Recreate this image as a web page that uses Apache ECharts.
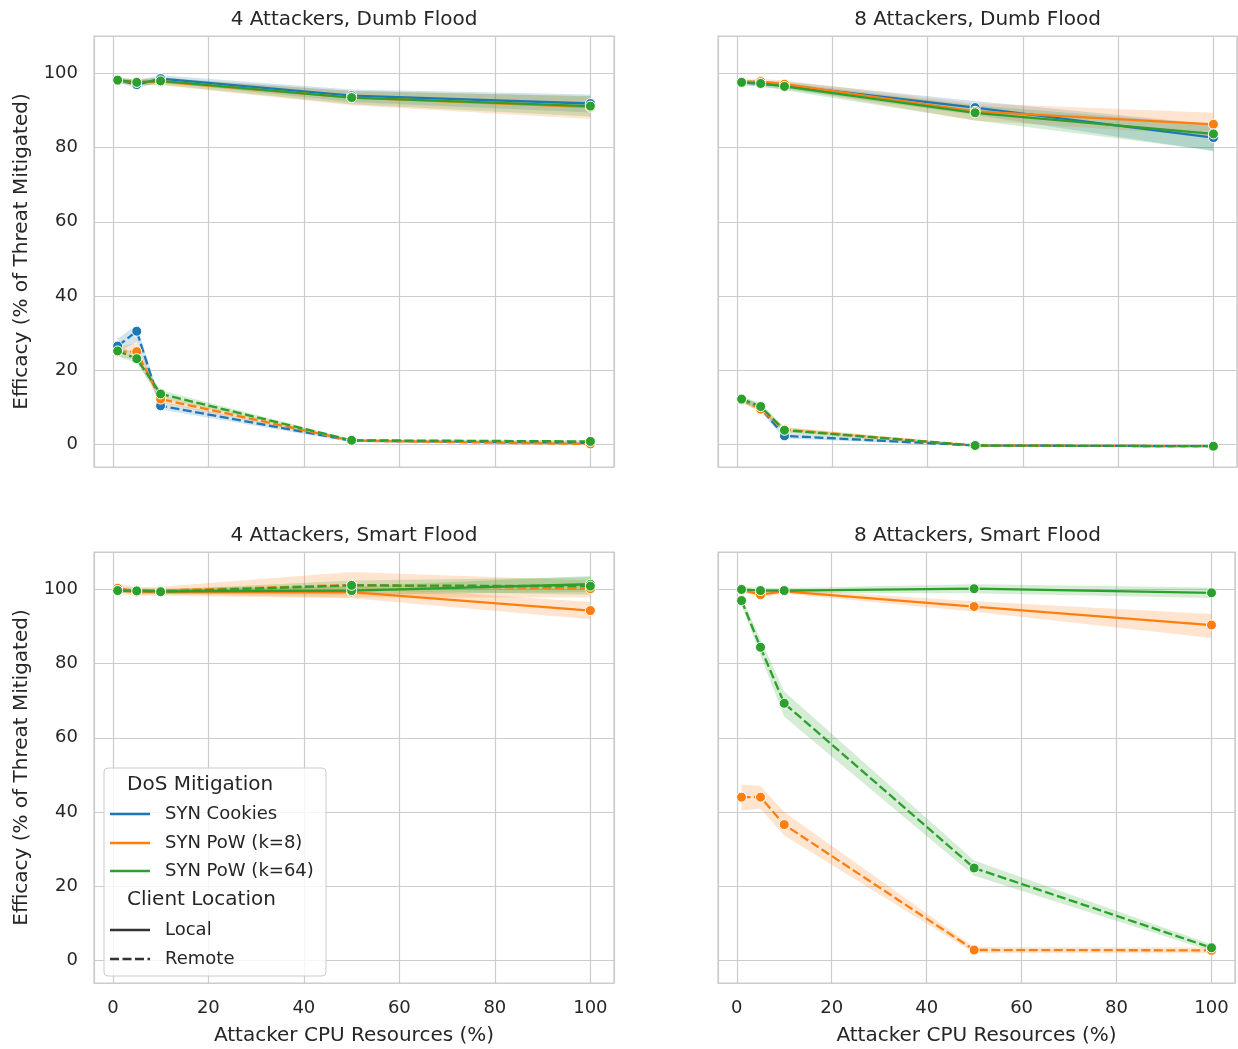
<!DOCTYPE html>
<html><head><meta charset="utf-8">
<script src="https://cdn.jsdelivr.net/npm/echarts@6/dist/echarts.min.js"></script>
<style>html,body{margin:0;padding:0;background:#fff}#chart{width:1238px;height:1049px}</style>
</head><body><div id="chart"></div>
<script>
// ---------- data ----------
const xValues = [1, 5, 10, 50, 100];
const xTickLabels = [0, 20, 40, 60, 80, 100];
const yTickLabels = [0, 20, 40, 60, 80, 100];
const panelTitles = ['4 Attackers, Dumb Flood', '8 Attackers, Dumb Flood', '4 Attackers, Smart Flood', '8 Attackers, Smart Flood'];
const mitigationNames = ['SYN Cookies', 'SYN PoW (k=8)', 'SYN PoW (k=64)'];
const locationNames = ['Local', 'Remote'];
const xAxisTitle = 'Attacker CPU Resources (%)';
const yAxisTitle = 'Efficacy (% of Threat Mitigated)';

// Panel A: 4 Attackers, Dumb Flood
const a_cookies_local = [98.3, 97.0, 98.6, 94.0, 91.9];
const a_cookies_local_lo = [97.6, 96.0, 97.6, 92.3, 89.5];
const a_cookies_local_hi = [99.0, 98.2, 99.5, 95.7, 94.3];
const a_pow8_local = [98.1, 97.7, 97.8, 93.5, 90.9];
const a_pow8_local_lo = [97.3, 96.9, 96.8, 91.4, 87.7];
const a_pow8_local_hi = [98.8, 98.5, 98.7, 95.3, 93.8];
const a_pow64_local = [98.2, 97.6, 98.0, 93.5, 91.2];
const a_pow64_local_lo = [97.5, 96.8, 97.0, 91.7, 88.4];
const a_pow64_local_hi = [98.9, 98.3, 98.9, 95.3, 93.9];
const a_cookies_remote = [26.5, 30.5, 10.4, 1.0, 0.4];
const a_cookies_remote_lo = [25.0, 27.5, 9.4, 0.6, 0.1];
const a_cookies_remote_hi = [28.5, 32.2, 11.5, 1.4, 0.7];
const a_pow8_remote = [25.0, 25.0, 12.2, 1.0, 0.1];
const a_pow8_remote_lo = [23.6, 22.8, 11.2, 0.7, -0.2];
const a_pow8_remote_hi = [26.5, 27.2, 13.2, 1.3, 0.4];
const a_pow64_remote = [25.2, 23.1, 13.6, 1.1, 0.8];
const a_pow64_remote_lo = [23.8, 21.8, 12.6, 0.8, 0.5];
const a_pow64_remote_hi = [26.6, 24.4, 14.6, 1.4, 1.1];

// Panel B: 8 Attackers, Dumb Flood
const b_cookies_local = [97.6, 97.2, 96.8, 90.8, 82.7];
const b_cookies_local_lo = [96.9, 96.4, 95.8, 88.8, 79.0];
const b_cookies_local_hi = [98.3, 98.0, 97.8, 92.6, 86.3];
const b_pow8_local = [97.7, 97.8, 97.1, 89.8, 86.3];
const b_pow8_local_lo = [97.0, 97.0, 96.1, 87.3, 83.2];
const b_pow8_local_hi = [98.4, 98.6, 98.1, 92.0, 89.4];
const b_pow64_local = [97.6, 97.3, 96.5, 89.4, 83.7];
const b_pow64_local_lo = [96.9, 96.5, 95.5, 87.3, 79.2];
const b_pow64_local_hi = [98.3, 98.1, 97.5, 91.4, 86.2];
const b_cookies_remote = [12.1, 9.8, 2.3, -0.3, -0.5];
const b_cookies_remote_lo = [11.4, 8.8, 1.6, -0.5, -0.7];
const b_cookies_remote_hi = [12.8, 10.8, 3.0, -0.1, -0.3];
const b_pow8_remote = [12.0, 9.5, 4.0, -0.3, -0.5];
const b_pow8_remote_lo = [11.3, 8.6, 3.3, -0.5, -0.7];
const b_pow8_remote_hi = [12.7, 10.4, 4.7, -0.1, -0.3];
const b_pow64_remote = [12.2, 10.2, 3.8, -0.3, -0.5];
const b_pow64_remote_lo = [11.5, 9.3, 3.1, -0.5, -0.7];
const b_pow64_remote_hi = [12.9, 11.1, 4.5, -0.1, -0.3];

// Panel C: 4 Attackers, Smart Flood
const c_pow8_local = [99.8, 99.3, 99.3, 99.3, 94.3];
const c_pow8_local_lo = [98.8, 98.3, 98.3, 97.6, 92.0];
const c_pow8_local_hi = [100.9, 100.3, 100.3, 101.0, 96.6];
const c_pow8_remote = [100.3, 99.6, 99.7, 101.2, 100.2];
const c_pow8_remote_lo = [99.3, 98.6, 98.7, 97.8, 97.8];
const c_pow8_remote_hi = [101.6, 100.6, 100.7, 104.7, 102.4];
const c_pow64_local = [99.7, 99.7, 99.5, 99.7, 101.4];
const c_pow64_local_lo = [99.1, 99.1, 98.9, 98.6, 99.3];
const c_pow64_local_hi = [100.3, 100.3, 100.1, 100.8, 103.6];
const c_pow64_remote = [99.7, 99.6, 99.4, 101.1, 100.9];
const c_pow64_remote_lo = [99.2, 99.1, 98.9, 99.8, 98.6];
const c_pow64_remote_hi = [100.2, 100.1, 99.9, 102.4, 103.3];

// Panel D: 8 Attackers, Smart Flood
const d_pow8_local = [99.9, 98.6, 99.5, 95.4, 90.4];
const d_pow8_local_lo = [99.3, 97.9, 98.9, 94.0, 86.9];
const d_pow8_local_hi = [100.5, 99.3, 100.1, 96.8, 93.4];
const d_pow8_remote = [44.0, 44.0, 36.6, 2.8, 2.7];
const d_pow8_remote_lo = [40.4, 40.9, 33.7, 2.0, 1.9];
const d_pow8_remote_hi = [47.4, 47.0, 40.0, 3.6, 3.5];
const d_pow64_local = [100.0, 99.7, 99.7, 100.2, 99.1];
const d_pow64_local_lo = [99.3, 99.0, 99.0, 99.0, 97.7];
const d_pow64_local_hi = [100.7, 100.4, 100.4, 101.4, 100.5];
const d_pow64_remote = [97.0, 84.4, 69.3, 24.9, 3.4];
const d_pow64_remote_lo = [95.8, 82.2, 65.7, 22.8, 2.5];
const d_pow64_remote_hi = [98.2, 86.6, 72.5, 26.9, 4.3];

// ---------- structure (mitigation index, location index, mean, lo, hi) ----------
const panels = [
  [
    [0, 0, a_cookies_local, a_cookies_local_lo, a_cookies_local_hi],
    [0, 1, a_cookies_remote, a_cookies_remote_lo, a_cookies_remote_hi],
    [1, 0, a_pow8_local, a_pow8_local_lo, a_pow8_local_hi],
    [1, 1, a_pow8_remote, a_pow8_remote_lo, a_pow8_remote_hi],
    [2, 0, a_pow64_local, a_pow64_local_lo, a_pow64_local_hi],
    [2, 1, a_pow64_remote, a_pow64_remote_lo, a_pow64_remote_hi]
  ],
  [
    [0, 0, b_cookies_local, b_cookies_local_lo, b_cookies_local_hi],
    [0, 1, b_cookies_remote, b_cookies_remote_lo, b_cookies_remote_hi],
    [1, 0, b_pow8_local, b_pow8_local_lo, b_pow8_local_hi],
    [1, 1, b_pow8_remote, b_pow8_remote_lo, b_pow8_remote_hi],
    [2, 0, b_pow64_local, b_pow64_local_lo, b_pow64_local_hi],
    [2, 1, b_pow64_remote, b_pow64_remote_lo, b_pow64_remote_hi]
  ],
  [
    [1, 0, c_pow8_local, c_pow8_local_lo, c_pow8_local_hi],
    [1, 1, c_pow8_remote, c_pow8_remote_lo, c_pow8_remote_hi],
    [2, 0, c_pow64_local, c_pow64_local_lo, c_pow64_local_hi],
    [2, 1, c_pow64_remote, c_pow64_remote_lo, c_pow64_remote_hi]
  ],
  [
    [1, 0, d_pow8_local, d_pow8_local_lo, d_pow8_local_hi],
    [1, 1, d_pow8_remote, d_pow8_remote_lo, d_pow8_remote_hi],
    [2, 0, d_pow64_local, d_pow64_local_lo, d_pow64_local_hi],
    [2, 1, d_pow64_remote, d_pow64_remote_lo, d_pow64_remote_hi]
  ]
];

// ---------- style ----------
const colors = ['#1f77b4', '#ff7f0e', '#2ca02c'];
const FONT = '"DejaVu Sans", "Liberation Sans", sans-serif';
const TXT = '#262626';
const GRIDC = '#cccccc';
const dashPattern = [9, 3.5];
const gridRects = [
  { left: 94, top: 36, width: 520, height: 431 },
  { left: 718, top: 36, width: 519, height: 431 },
  { left: 94, top: 552, width: 520, height: 431 },
  { left: 718, top: 552, width: 519, height: 431 }
];

function isTick(v, list) { return list.some(t => Math.abs(t - v) < 1e-6); }

const chart = echarts.init(document.getElementById('chart'), null, { renderer: 'canvas' });

const grid = [], xAxis = [], yAxis = [], title = [], series = [];
gridRects.forEach((g, p) => {
  grid.push(Object.assign({ show: true, borderColor: GRIDC, borderWidth: 1.25, backgroundColor: '#fff' }, g));
  const bottomRow = p >= 2, leftCol = p % 2 === 0;
  title.push({
    text: panelTitles[p], left: g.left + g.width / 2, top: g.top - 26, textAlign: 'center', padding: 0,
    textStyle: { fontSize: 20, fontWeight: 'normal', color: TXT, fontFamily: FONT }
  });
  xAxis.push({
    type: 'value', gridIndex: p, min: -3.95, max: 104.95, splitNumber: 5, minInterval: 20, maxInterval: 20,
    axisLine: { show: false }, axisTick: { show: false },
    axisLabel: { show: bottomRow, margin: 16, fontSize: 18, color: TXT, fontFamily: FONT,
      formatter: v => isTick(v, xTickLabels) ? String(Math.round(v)) : '' },
    splitLine: { show: true, lineStyle: { color: GRIDC, width: 1.2 } },
    name: bottomRow ? xAxisTitle : '', nameLocation: 'middle', nameGap: 43,
    nameTextStyle: { fontSize: 20, color: TXT, fontFamily: FONT }
  });
  yAxis.push({
    type: 'value', gridIndex: p, min: -6.1, max: 110.1, splitNumber: 5, minInterval: 20, maxInterval: 20,
    axisLine: { show: false }, axisTick: { show: false },
    axisLabel: { show: leftCol, margin: 16, fontSize: 18, color: TXT, fontFamily: FONT,
      formatter: v => isTick(v, yTickLabels) ? String(Math.round(v)) : '' },
    splitLine: { show: true, lineStyle: { color: GRIDC, width: 1.2 } },
    name: leftCol ? yAxisTitle : '', nameLocation: 'middle', nameGap: 62, nameRotate: 90,
    nameTextStyle: { fontSize: 20, color: TXT, fontFamily: FONT }
  });

  // confidence bands
  panels[p].forEach(([m, l, mean, lo, hi]) => {
    const rows = xValues.map((x, i) => [x, lo[i], hi[i]]);
    series.push({
      type: 'custom', xAxisIndex: p, yAxisIndex: p, z: 1, silent: true, animation: false,
      encode: { x: 0, y: [1, 2] },
      data: rows,
      renderItem: (params, api) => {
        if (params.dataIndex !== 0) return null;
        const pts = [];
        rows.forEach(r => pts.push(api.coord([r[0], r[2]])));
        for (let i = rows.length - 1; i >= 0; i--) pts.push(api.coord([rows[i][0], rows[i][1]]));
        return { type: 'polygon', shape: { points: pts }, style: { fill: colors[m], opacity: 0.2 } };
      }
    });
  });
  // mean lines with markers
  panels[p].forEach(([m, l, mean], k) => {
    series.push({
      type: 'line', name: mitigationNames[m] + ' / ' + locationNames[l],
      xAxisIndex: p, yAxisIndex: p, z: 3 + k, silent: true, animation: false,
      data: xValues.map((x, i) => [x, mean[i]]),
      symbol: 'circle', symbolSize: 10, showSymbol: true,
      lineStyle: { color: colors[m], width: 2.3, type: l === 1 ? dashPattern : 'solid' },
      itemStyle: { color: colors[m], borderColor: '#ffffff', borderWidth: 1 },
      emphasis: { disabled: true }
    });
  });
});

// legend drawn as graphic (two titled sections)
const L = { x: 104, y: 768, w: 222, h: 208 };
const legendRows = [
  { kind: 'title', text: 'DoS Mitigation', y: 785 },
  { kind: 'item', text: mitigationNames[0], y: 814, color: colors[0], dash: false },
  { kind: 'item', text: mitigationNames[1], y: 843, color: colors[1], dash: false },
  { kind: 'item', text: mitigationNames[2], y: 871, color: colors[2], dash: false },
  { kind: 'title', text: 'Client Location', y: 900 },
  { kind: 'item', text: locationNames[0], y: 930, color: '#333333', dash: false },
  { kind: 'item', text: locationNames[1], y: 959, color: '#333333', dash: true }
];
const graphic = [{
  type: 'rect', z: 100, silent: true,
  shape: { x: L.x, y: L.y, width: L.w, height: L.h, r: 4 },
  style: { fill: 'rgba(255,255,255,0.8)', stroke: GRIDC, lineWidth: 1 }
}];
legendRows.forEach(r => {
  if (r.kind === 'title') {
    graphic.push({ type: 'text', z: 101, silent: true,
      style: { text: r.text, x: 127, y: r.y, fill: TXT, font: '20px ' + FONT, textVerticalAlign: 'middle', verticalAlign: 'middle' } });
  } else {
    graphic.push({ type: 'line', z: 101, silent: true,
      shape: { x1: 110, y1: r.y, x2: 150, y2: r.y },
      style: { stroke: r.color, lineWidth: 2.3, lineDash: r.dash ? dashPattern : null } });
    graphic.push({ type: 'text', z: 101, silent: true,
      style: { text: r.text, x: 165, y: r.y, fill: TXT, font: '18px ' + FONT, textVerticalAlign: 'middle', verticalAlign: 'middle' } });
  }
});

chart.setOption({ backgroundColor: '#ffffff', animation: false, title, grid, xAxis, yAxis, series, graphic });
</script></body></html>
